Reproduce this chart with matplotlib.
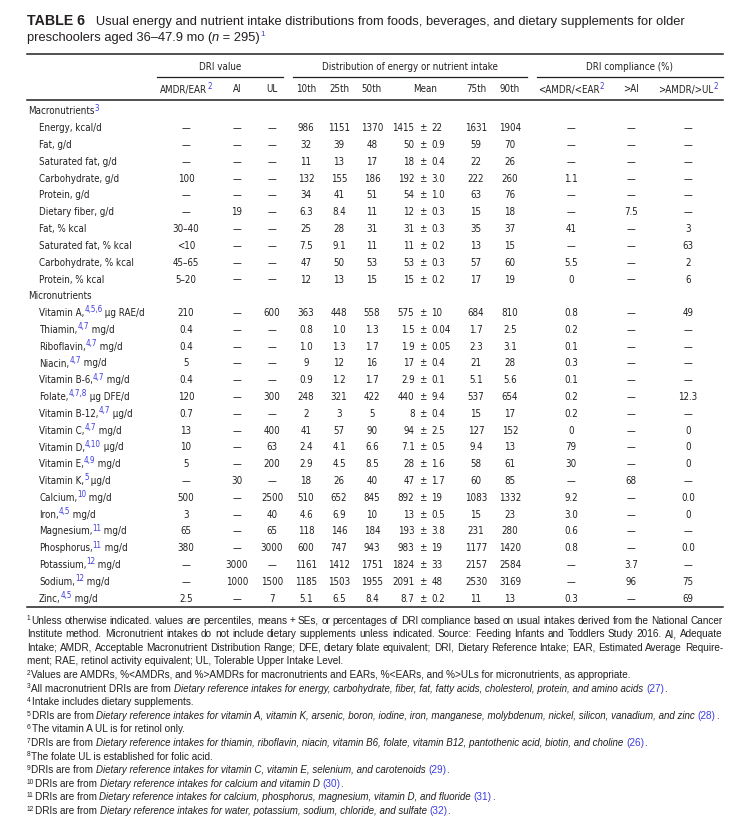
import matplotlib
matplotlib.use('Agg')
import matplotlib.pyplot as plt
from matplotlib.lines import Line2D
from matplotlib import font_manager

W, H = 754, 826
INK = '#231f20'
BLUE = '#3c3ce0'
D = '\u2014'

# table body ------------------------------------------------------------
row_names = ['Energy, kcal/d', 'Fat, g/d', 'Saturated fat, g/d', 'Carbohydrate, g/d',
             'Protein, g/d', 'Dietary fiber, g/d', 'Fat, % kcal', 'Saturated fat, % kcal',
             'Carbohydrate, % kcal', 'Protein, % kcal',
             'Vitamin A,', 'Thiamin,', 'Riboflavin,', 'Niacin,', 'Vitamin B-6,', 'Folate,',
             'Vitamin B-12,', 'Vitamin C,', 'Vitamin D,', 'Vitamin E,', 'Vitamin K,',
             'Calcium,', 'Iron,', 'Magnesium,', 'Phosphorus,', 'Potassium,', 'Sodium,', 'Zinc,']
row_notes = [''] * 10 + ['4,5,6', '4,7', '4,7', '4,7', '4,7', '4,7,8', '4,7', '4,7', '4,10',
                         '4,9', '5', '10', '4,5', '11', '11', '12', '12', '4,5']
row_units = [''] * 10 + [' \u03bcg RAE/d', ' mg/d', ' mg/d', ' mg/d', ' mg/d', ' \u03bcg DFE/d',
                         ' \u03bcg/d', ' mg/d', ' \u03bcg/d', ' mg/d', ' \u03bcg/d', ' mg/d',
                         ' mg/d', ' mg/d', ' mg/d', ' mg/d', ' mg/d', ' mg/d']
n_macro = 10

amdr_ear = [D, D, D, '100', D, D, '30\u201340', '<10', '45\u201365', '5\u201320',
            '210', '0.4', '0.4', '5', '0.4', '120', '0.7', '13', '10', '5', D, '500', '3',
            '65', '380', D, D, '2.5']
ai = [D, D, D, D, D, '19', D, D, D, D,
      D, D, D, D, D, D, D, D, D, D, '30', D, D, D, D, '3000', '1000', D]
ul = [D] * 10 + ['600', D, D, D, D, '300', D, '400', '63', '200', D, '2500', '40', '65',
                 '3000', D, '1500', '7']
p10 = ['986', '32', '11', '132', '34', '6.3', '25', '7.5', '47', '12',
       '363', '0.8', '1.0', '9', '0.9', '248', '2', '41', '2.4', '2.9', '18', '510', '4.6',
       '118', '600', '1161', '1185', '5.1']
p25 = ['1151', '39', '13', '155', '41', '8.4', '28', '9.1', '50', '13',
       '448', '1.0', '1.3', '12', '1.2', '321', '3', '57', '4.1', '4.5', '26', '652', '6.9',
       '146', '747', '1412', '1503', '6.5']
p50 = ['1370', '48', '17', '186', '51', '11', '31', '11', '53', '15',
       '558', '1.3', '1.7', '16', '1.7', '422', '5', '90', '6.6', '8.5', '40', '845', '10',
       '184', '943', '1751', '1955', '8.4']
mean = ['1415', '50', '18', '192', '54', '12', '31', '11', '53', '15',
        '575', '1.5', '1.9', '17', '2.9', '440', '8', '94', '7.1', '28', '47', '892', '13',
        '193', '983', '1824', '2091', '8.7']
se = ['22', '0.9', '0.4', '3.0', '1.0', '0.3', '0.3', '0.2', '0.3', '0.2',
      '10', '0.04', '0.05', '0.4', '0.1', '9.4', '0.4', '2.5', '0.5', '1.6', '1.7', '19', '0.5',
      '3.8', '19', '33', '48', '0.2']
p75 = ['1631', '59', '22', '222', '63', '15', '35', '13', '57', '17',
       '684', '1.7', '2.3', '21', '5.1', '537', '15', '127', '9.4', '58', '60', '1083', '15',
       '231', '1177', '2157', '2530', '11']
p90 = ['1904', '70', '26', '260', '76', '18', '37', '15', '60', '19',
       '810', '2.5', '3.1', '28', '5.6', '654', '17', '152', '13', '61', '85', '1332', '23',
       '280', '1420', '2584', '3169', '13']
below = [D, D, D, '1.1', D, D, '41', D, '5.5', '0',
         '0.8', '0.2', '0.1', '0.3', '0.1', '0.2', '0.2', '0', '79', '30', D, '9.2', '3.0',
         '0.6', '0.8', D, D, '0.3']
above_ai = [D, D, D, D, D, '7.5', D, D, D, D,
            D, D, D, D, D, D, D, D, D, D, '68', D, D, D, D, '3.7', '96', D]
above_ul = [D, D, D, D, D, D, '3', '63', '2', '6',
            '49', D, D, D, D, '12.3', D, '0', '0', '0', D, '0.0', '0', D, '0.0', D, '75', '69']

footnotes = [
    ['1', [('Unless otherwise indicated. values are percentiles, means + SEs, or percentages of DRI '
            'compliance based on usual intakes derived from the National Cancer', 'n')]],
    ['', [('Institute method. Micronutrient intakes do not include dietary supplements unless '
           'indicated. Source: Feeding Infants and Toddlers Study 2016. AI, Adequate', 'n')]],
    ['', [('Intake; AMDR, Acceptable Macronutrient Distribution Range; DFE, dietary folate '
           'equivalent; DRI, Dietary Reference Intake; EAR, Estimated Average Require-', 'n')]],
    ['', [('ment; RAE, retinol activity equivalent; UL, Tolerable Upper Intake Level.', 'n')]],
    ['2', [('Values are AMDRs, %<AMDRs, and %>AMDRs for macronutrients and EARs, %<EARs, '
            'and %>ULs for micronutrients, as appropriate.', 'n')]],
    ['3', [('All macronutrient DRIs are from ', 'n'),
           ('Dietary reference intakes for energy, carbohydrate, fiber, fat, fatty acids, '
            'cholesterol, protein, and amino acids', 'i'), (' ', 'n'), ('(27)', 'r'), ('.', 'n')]],
    ['4', [('Intake includes dietary supplements.', 'n')]],
    ['5', [('DRIs are from ', 'n'),
           ('Dietary reference intakes for vitamin A, vitamin K, arsenic, boron, iodine, iron, '
            'manganese, molybdenum, nickel, silicon, vanadium, and zinc', 'i'), (' ', 'n'),
           ('(28)', 'r'), ('.', 'n')]],
    ['6', [('The vitamin A UL is for retinol only.', 'n')]],
    ['7', [('DRIs are from ', 'n'),
           ('Dietary reference intakes for thiamin, riboflavin, niacin, vitamin B6, folate, '
            'vitamin B12, pantothenic acid, biotin, and choline', 'i'), (' ', 'n'),
           ('(26)', 'r'), ('.', 'n')]],
    ['8', [('The folate UL is established for folic acid.', 'n')]],
    ['9', [('DRIs are from ', 'n'),
           ('Dietary reference intakes for vitamin C, vitamin E, selenium, and carotenoids', 'i'),
           (' ', 'n'), ('(29)', 'r'), ('.', 'n')]],
    ['10', [('DRIs are from ', 'n'), ('Dietary reference intakes for calcium and vitamin D', 'i'),
            (' ', 'n'), ('(30)', 'r'), ('.', 'n')]],
    ['11', [('DRIs are from ', 'n'),
            ('Dietary reference intakes for calcium, phosphorus, magnesium, vitamin D, and fluoride', 'i'),
            (' ', 'n'), ('(31)', 'r'), ('.', 'n')]],
    ['12', [('DRIs are from ', 'n'),
            ('Dietary reference intakes for water, potassium, sodium, chloride, and sulfate', 'i'),
            (' ', 'n'), ('(32)', 'r'), ('.', 'n')]],
]
justified = [0, 1, 2]

# pick the narrowest sans that is installed for the table body
names = {f.name for f in font_manager.fontManager.ttflist}
dv_cond = any(f.name == 'DejaVu Sans' and f.stretch in ('condensed', 'semi-condensed')
              for f in font_manager.fontManager.ttflist)
BODY_KW = {}
if 'Liberation Sans Narrow' in names:
    NARROW = ['Liberation Sans Narrow', 'DejaVu Sans']
    BODY = 7.4
elif dv_cond:
    NARROW = ['DejaVu Sans']
    BODY_KW = {'stretch': 'condensed'}
    BODY = 7.0
else:
    NARROW = ['Liberation Sans', 'DejaVu Sans']
    BODY = 6.9
WIDE = ['Liberation Sans', 'DejaVu Sans']

fig = plt.figure(figsize=(W / 100, H / 100), dpi=100)
fig.patch.set_facecolor('white')
renderer = fig.canvas.get_renderer()


def put(x, y, s, size=None, family=None, ha='left', color=INK, **kw):
    if family is None:
        family = NARROW
        kw = {**BODY_KW, **kw}
    return fig.text(x / W, 1 - y / H, s, fontsize=size or BODY, family=family, ha=ha,
                    va='baseline', color=color, **kw)


def wid(t):
    return t.get_window_extent(renderer).width


def runs(x, y, parts, size=None, family=None, ha='left', sup=5.8, rise=3.8,
         bold_size=None, ital_size=None):
    texts = []
    cx = x
    for s, kind in parts:
        kw = {}
        yy, sz, col = y, size, INK
        if kind in ('s', 'k'):
            yy, sz = y - rise, sup
            col = BLUE if kind == 's' else INK
        if kind == 'r':
            col = BLUE
        if kind == 'i':
            kw['style'] = 'italic'
            sz = ital_size or size
        if kind == 'b':
            kw['weight'] = 'bold'
            sz = bold_size or size
        t = put(cx, yy, s, size=sz, family=family, color=col, **kw)
        texts.append(t)
        cx += wid(t)
    total = cx - x
    if ha != 'left':
        shift = total / 2 if ha == 'center' else total
        for t in texts:
            px, py = t.get_position()
            t.set_x(px - shift / W)
    return total


def hline(y, x0, x1, lw=1.0):
    fig.add_artist(Line2D([x0 / W, x1 / W], [1 - y / H, 1 - y / H], color=INK, lw=lw))


# title
runs(27, 25, [('TABLE 6', 'b'), ('   Usual energy and nutrient intake distributions from foods, '
                                 'beverages, and dietary supplements for older', 'n')],
     size=9.3, family=WIDE, bold_size=10.2)
runs(27, 41, [('preschoolers aged 36\u201347.9 mo (', 'n'), ('n', 'i'), (' = 295)', 'n'),
              ('1', 's')], size=9.3, family=WIDE, sup=5.8, rise=4.8)

# rules and headers
L, R = 27, 723
hline(54, L, R, 1.1)
groups = [('DRI value', 157, 283), ('Distribution of energy or nutrient intake', 293, 527),
          ('DRI compliance (%)', 537, R)]
for name, a, b in groups:
    put((a + b) / 2, 69.5, name, ha='center')
    hline(77, a, b, 0.9)

cols = [186, 237, 272, 306, 339, 372, 425, 476, 510, 571, 631, 688]
headers = [[('AMDR/EAR', 'n'), ('2', 's')], [('AI', 'n')], [('UL', 'n')], [('10th', 'n')],
           [('25th', 'n')], [('50th', 'n')], [('Mean', 'n')], [('75th', 'n')], [('90th', 'n')],
           [('<AMDR/<EAR', 'n'), ('2', 's')], [('>AI', 'n')], [('>AMDR/>UL', 'n'), ('2', 's')]]
for cx, parts in zip(cols, headers):
    runs(cx, 92.5, parts, ha='center')
hline(100, L, R, 1.1)

# body
y0, step = 114.5, 16.8
runs(28, y0, [('Macronutrients', 'n'), ('3', 's')])
put(28, y0 + step * (n_macro + 1), 'Micronutrients')
pm_x = 423
for i, name in enumerate(row_names):
    line = i + 1 if i < n_macro else i + 2
    y = y0 + step * line
    runs(39, y, [(name, 'n'), (row_notes[i], 's'), (row_units[i], 'n')])
    for cx, col in zip(cols[:6], [amdr_ear, ai, ul, p10, p25, p50]):
        put(cx, y, col[i], ha='center')
    put(pm_x - 8.5, y, mean[i], ha='right')
    put(pm_x, y, '\u00b1', ha='center')
    put(pm_x + 8.5, y, se[i], ha='left')
    for cx, col in zip(cols[7:], [p75, p90, below, above_ai, above_ul]):
        put(cx, y, col[i], ha='center')
hline(607, L, R, 1.1)

# footnotes
fy, fstep = 623.5, 13.6
fsize = 7.2
for j, (num, parts) in enumerate(footnotes):
    y = fy + fstep * j
    x = L
    if num:
        x += runs(L, y, [(num, 'k')], size=fsize, family=WIDE, sup=4.8, rise=3.2) + 0.8
    if j in justified:
        words = parts[0][0].split(' ')
        ts = [put(0, y, w_, size=fsize, family=WIDE) for w_ in words]
        ws = [wid(t) for t in ts]
        gap = (R - x - sum(ws)) / (len(words) - 1)
        cx = x
        for t, w_ in zip(ts, ws):
            t.set_x(cx / W)
            cx += w_ + gap
    else:
        runs(x, y, parts, size=fsize, family=WIDE, ital_size=7.0)

fig.savefig('out.png', dpi=100, facecolor='white')
